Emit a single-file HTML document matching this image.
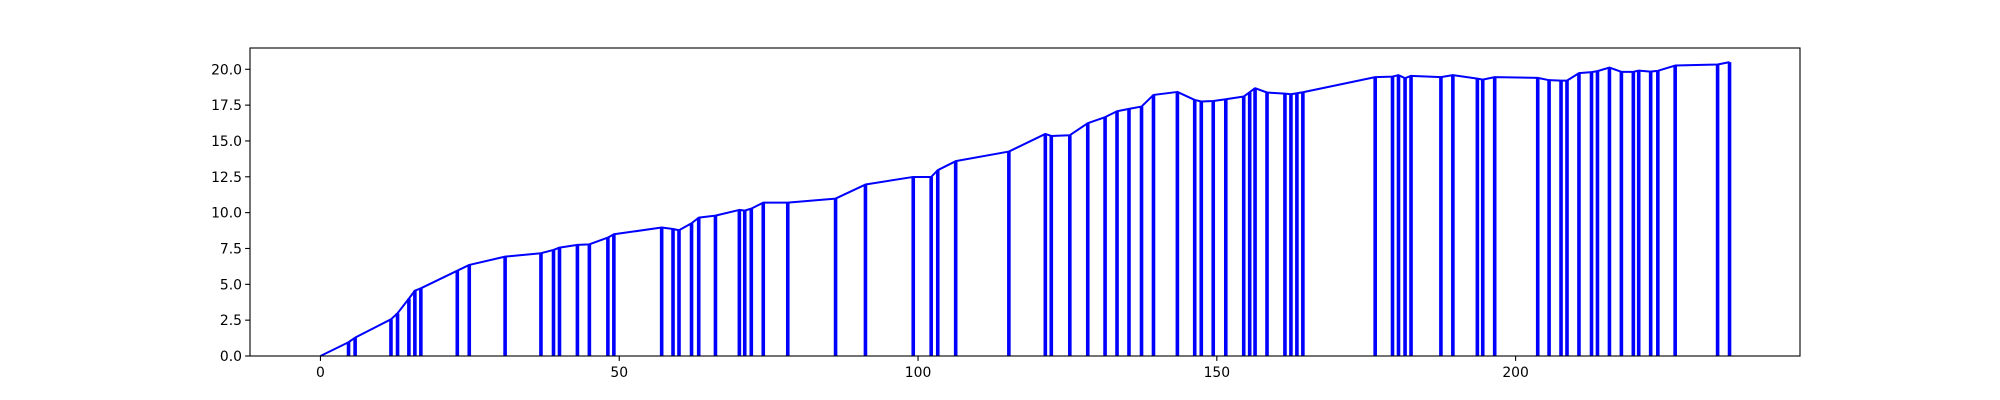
<!DOCTYPE html>
<html><head><meta charset="utf-8">
<style>
html,body{margin:0;padding:0;background:#fff;}
svg{display:block;font-family:"DejaVu Sans","Liberation Sans",sans-serif;}
</style></head>
<body>
<svg id="chart" width="2000" height="400" viewBox="0 0 2000 400" xmlns="http://www.w3.org/2000/svg">
<rect x="0" y="0" width="2000" height="400" fill="#fff"/>
<g id="marks"></g>
<g id="axes"></g>
</svg>
<script>
const xValues = [0,4.7,5.8,11.8,12.9,14.8,15.8,16.8,22.9,24.9,30.9,36.9,39.0,40.0,43.0,45.0,48.1,49.1,57.1,59.0,60.0,62.1,63.3,66.1,70.1,71.0,72.1,74.1,78.2,86.2,91.2,99.2,102.2,103.3,106.3,115.2,121.3,122.3,125.4,128.4,131.3,133.3,135.3,137.4,139.4,143.4,146.3,147.4,149.4,151.5,154.5,155.5,156.4,158.4,161.4,162.4,163.4,164.4,176.5,179.4,180.4,181.5,182.5,187.5,189.5,193.6,194.5,196.5,203.7,205.6,207.6,208.6,210.6,212.7,213.7,215.7,217.7,219.7,220.6,222.6,223.8,226.7,233.8,235.8];
const yValues = [0,0.96,1.28,2.56,2.98,4.0,4.56,4.72,5.95,6.35,6.93,7.17,7.4,7.56,7.75,7.79,8.26,8.49,8.96,8.86,8.77,9.26,9.65,9.79,10.19,10.14,10.28,10.7,10.7,10.98,11.96,12.49,12.49,12.96,13.59,14.26,15.49,15.35,15.4,16.24,16.66,17.07,17.24,17.4,18.21,18.42,17.86,17.75,17.79,17.91,18.1,18.4,18.68,18.38,18.3,18.26,18.33,18.4,19.45,19.49,19.59,19.38,19.54,19.45,19.59,19.35,19.28,19.45,19.4,19.24,19.21,19.21,19.73,19.8,19.87,20.12,19.82,19.82,19.91,19.84,19.89,20.26,20.33,20.5];
const xTicks = [0,50,100,150,200];
const yTicks = [0,2.5,5,7.5,10,12.5,15,17.5,20];
const yTickLabels = ["0.0","2.5","5.0","7.5","10.0","12.5","15.0","17.5","20.0"];

const NS = "http://www.w3.org/2000/svg";
const L = 250, R = 1800, T = 48, B = 356;
const xMaxD = Math.max(...xValues), xMinD = Math.min(...xValues);
const span = xMaxD - xMinD;
const x0 = xMinD - 0.05*span, x1 = xMaxD + 0.05*span;
const y0 = 0, y1 = Math.max(...yValues)*1.048;
function sx(v){ return L + (v - x0)/(x1 - x0)*(R - L); }
function sy(v){ return B - (v - y0)/(y1 - y0)*(B - T); }
function mk(tag, attrs, parent){ const e = document.createElementNS(NS, tag); for (const k in attrs) e.setAttribute(k, attrs[k]); parent.appendChild(e); return e; }

const marks = document.getElementById('marks');
const axes = document.getElementById('axes');

// stems
for (let i = 0; i < xValues.length; i++) {
  if (yValues[i] <= 0) continue;
  const ln = mk('line', {x1: sx(xValues[i]), x2: sx(xValues[i]), y1: sy(0), y2: sy(yValues[i]), stroke: '#0000ff', 'stroke-width': 3.6}, marks);
  
  
}
// line
const pts = xValues.map((v, i) => sx(v).toFixed(2) + ',' + sy(yValues[i]).toFixed(2)).join(' ');
const pl = mk('polyline', {points: pts, fill: 'none', stroke: '#0000ff', 'stroke-width': 2, 'stroke-linejoin': 'round'}, marks);



// frame
const fr = mk('rect', {x: L, y: T, width: R - L, height: B - T, fill: 'none', stroke: '#000', 'stroke-width': 1.1}, axes);



// x ticks
xTicks.forEach((t) => {
  const x = sx(t);
  const tk = mk('line', {x1: x, x2: x, y1: B, y2: B + 4.9, stroke: '#000', 'stroke-width': 1.1}, axes);
  
  
  const tx = mk('text', {x: x, y: B + 21, 'text-anchor': 'middle', 'font-size': 13.9, fill: '#000'}, axes);
  tx.textContent = String(t);
  
  
});
// y ticks
yTicks.forEach((t, i) => {
  const y = sy(t);
  const tk = mk('line', {x1: L - 4.9, x2: L, y1: y, y2: y, stroke: '#000', 'stroke-width': 1.1}, axes);
  
  
  const tx = mk('text', {x: L - 8, y: y + 5, 'text-anchor': 'end', 'font-size': 13.9, fill: '#000'}, axes);
  tx.textContent = yTickLabels[i];
  
  
});
</script>
</body></html>
